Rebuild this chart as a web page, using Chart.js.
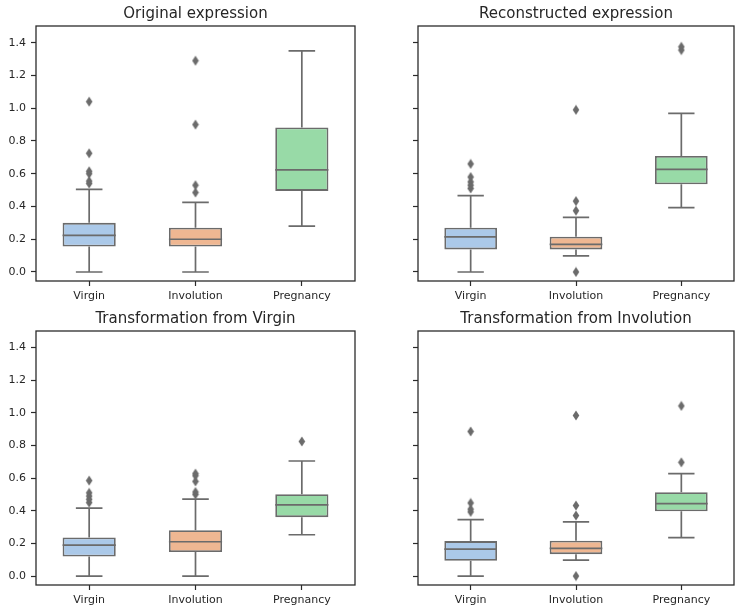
<!DOCTYPE html>
<html>
<head>
<meta charset="utf-8">
<script src="https://cdn.jsdelivr.net/npm/chart.js@4"></script>
<style>
  html, body { margin: 0; padding: 0; background: #ffffff; overflow: hidden; }
  #wrap { position: relative; width: 735px; height: 609px; }
  canvas { position: absolute; }
</style>
</head>
<body>
<div id="wrap">
  <canvas id="c1" style="left:0px;top:0px"></canvas>
  <canvas id="c2" style="left:382px;top:0px"></canvas>
  <canvas id="c3" style="left:0px;top:305px"></canvas>
  <canvas id="c4" style="left:382px;top:305px"></canvas>
</div>
<script>
// ---------- data ----------
const categories = ['Virgin', 'Involution', 'Pregnancy'];
const yTicks = [0.0, 0.2, 0.4, 0.6, 0.8, 1.0, 1.2, 1.4];
const panelTitles = ['Original expression', 'Reconstructed expression',
                     'Transformation from Virgin', 'Transformation from Involution'];

// Original expression
const origQ1 = [0.155, 0.155, 0.495];
const origMedian = [0.224, 0.200, 0.623];
const origQ3 = [0.300, 0.270, 0.883];
const origLow = [0.000, 0.000, 0.280];
const origHigh = [0.505, 0.425, 1.350];
const origOutliers = [[0.540, 0.555, 0.600, 0.615, 0.725, 1.040], [0.485, 0.530, 0.900, 1.290], []];

// Reconstructed expression
const reconQ1 = [0.138, 0.138, 0.535];
const reconMedian = [0.215, 0.169, 0.627];
const reconQ3 = [0.270, 0.215, 0.708];
const reconLow = [0.000, 0.098, 0.393];
const reconHigh = [0.466, 0.334, 0.969];
const reconOutliers = [[0.510, 0.530, 0.550, 0.580, 0.660], [0.000, 0.374, 0.433, 0.990], [1.355, 1.375]];

// Transformation from Virgin
const fromVirginQ1 = [0.120, 0.147, 0.361];
const fromVirginMedian = [0.190, 0.210, 0.436];
const fromVirginQ3 = [0.236, 0.281, 0.501];
const fromVirginLow = [0.000, 0.000, 0.253];
const fromVirginHigh = [0.416, 0.471, 0.705];
const fromVirginOutliers = [[0.450, 0.470, 0.490, 0.510, 0.585], [0.500, 0.515, 0.580, 0.615, 0.628], [0.825]];

// Transformation from Involution
const fromInvQ1 = [0.094, 0.134, 0.397];
const fromInvMedian = [0.165, 0.169, 0.444];
const fromInvQ3 = [0.214, 0.216, 0.514];
const fromInvLow = [0.000, 0.098, 0.236];
const fromInvHigh = [0.346, 0.332, 0.628];
const fromInvOutliers = [[0.393, 0.410, 0.448, 0.886], [0.000, 0.371, 0.432, 0.984], [0.697, 1.043]];

// ---------- styling ----------
const boxColors = ['#abc9e9', '#efb792', '#98daa7'];
const lineGray = '#6b6b6b';
const axisColor = '#2b2b2b';
const textColor = '#262626';
const FONT = 'DejaVu Sans';

function makeDiamond() {
  const c = document.createElement('canvas');
  c.width = 8; c.height = 11;
  const g = c.getContext('2d');
  g.fillStyle = lineGray;
  g.beginPath();
  g.moveTo(4, 0.5); g.lineTo(7.3, 5.5); g.lineTo(4, 10.5); g.lineTo(0.7, 5.5);
  g.closePath(); g.fill();
  return c;
}
const diamond = makeDiamond();

const boxExtras = {
  id: 'boxExtras',
  afterDatasetsDraw(chart) {
    const st = chart.config.options.plugins.boxExtras;
    const x = chart.scales.x, y = chart.scales.y;
    const ctx = chart.ctx;
    ctx.save();
    ctx.strokeStyle = lineGray;
    ctx.lineWidth = 1.7;
    ctx.lineCap = 'butt';
    for (let i = 0; i < categories.length; i++) {
      const xc = x.getPixelForValue(i);
      const capL = x.getPixelForValue(i - 0.125), capR = x.getPixelForValue(i + 0.125);
      const boxL = x.getPixelForValue(i - 0.25), boxR = x.getPixelForValue(i + 0.25);
      const pLow = y.getPixelForValue(st.low[i]), pHigh = y.getPixelForValue(st.high[i]);
      const pQ1 = y.getPixelForValue(st.q1[i]), pQ3 = y.getPixelForValue(st.q3[i]);
      const pMed = y.getPixelForValue(st.median[i]);
      ctx.beginPath();
      ctx.moveTo(xc, pQ1); ctx.lineTo(xc, pLow);
      ctx.moveTo(xc, pQ3); ctx.lineTo(xc, pHigh);
      ctx.moveTo(capL, pLow); ctx.lineTo(capR, pLow);
      ctx.moveTo(capL, pHigh); ctx.lineTo(capR, pHigh);
      ctx.moveTo(boxL, pMed); ctx.lineTo(boxR, pMed);
      ctx.stroke();
    }
    ctx.restore();
  },
  afterDraw(chart) {
    const a = chart.chartArea, ctx = chart.ctx;
    ctx.save();
    ctx.strokeStyle = axisColor;
    ctx.lineWidth = 1.3;
    ctx.strokeRect(a.left, a.top, a.right - a.left, a.bottom - a.top);
    ctx.restore();
  }
};

function makePanel(id, w, h, title, q1, median, q3, low, high, outliers, showYLabels) {
  const cv = document.getElementById(id);
  cv.width = w; cv.height = h;
  const pts = [];
  outliers.forEach((arr, i) => arr.forEach(v => pts.push({ x: categories[i], y: v })));
  new Chart(cv, {
    type: 'bar',
    data: {
      labels: categories,
      datasets: [
        {
          type: 'bar',
          data: q1.map((v, i) => [v, q3[i]]),
          backgroundColor: boxColors,
          borderColor: lineGray,
          borderWidth: 1.8,
          borderSkipped: false,
          barPercentage: 0.5,
          categoryPercentage: 1.0,
          order: 2
        },
        {
          type: 'scatter',
          data: pts,
          pointStyle: diamond,
          pointRadius: 4,
          showLine: false,
          order: 1
        }
      ]
    },
    options: {
      responsive: false,
      animation: false,
      events: [],
      layout: { autoPadding: false, padding: { left: 0, right: 1, top: 0, bottom: 0 } },
      plugins: {
        legend: { display: false },
        tooltip: { enabled: false },
        title: {
          display: true,
          text: title,
          fullSize: false,
          color: textColor,
          font: { family: FONT, size: 15, weight: 'normal' },
          padding: { top: 5, bottom: 3 }
        },
        boxExtras: { q1, median, q3, low, high }
      },
      scales: {
        x: {
          type: 'category',
          offset: true,
          grid: { display: true, drawOnChartArea: false, drawTicks: true, tickLength: 5, tickColor: axisColor, offset: false, tickWidth: 1.2 },
          border: { display: false },
          ticks: { color: textColor, font: { family: FONT, size: 11 }, padding: 4, maxRotation: 0 },
          afterFit(s) { s.height = 24; s.paddingLeft = 0; s.paddingRight = 0; }
        },
        y: {
          type: 'linear',
          min: -0.055,
          max: 1.502,
          grid: { display: true, drawOnChartArea: false, drawTicks: true, tickLength: 5, tickColor: axisColor, tickWidth: 1.2 },
          border: { display: false },
          afterBuildTicks(s) { s.ticks = yTicks.map(v => ({ value: v })); },
          ticks: {
            color: textColor,
            font: { family: FONT, size: 11 },
            padding: 5,
            callback: (v) => showYLabels ? Number(v).toFixed(1) : ''
          },
          afterFit(s) { s.width = 36; s.paddingTop = 0; s.paddingBottom = 0; }
        }
      }
    },
    plugins: [boxExtras]
  });
}

makePanel('c1', 356, 305, panelTitles[0], origQ1, origMedian, origQ3, origLow, origHigh, origOutliers, true);
makePanel('c2', 353, 305, panelTitles[1], reconQ1, reconMedian, reconQ3, reconLow, reconHigh, reconOutliers, false);
makePanel('c3', 356, 304, panelTitles[2], fromVirginQ1, fromVirginMedian, fromVirginQ3, fromVirginLow, fromVirginHigh, fromVirginOutliers, true);
makePanel('c4', 353, 304, panelTitles[3], fromInvQ1, fromInvMedian, fromInvQ3, fromInvLow, fromInvHigh, fromInvOutliers, false);
</script>
</body>
</html>
